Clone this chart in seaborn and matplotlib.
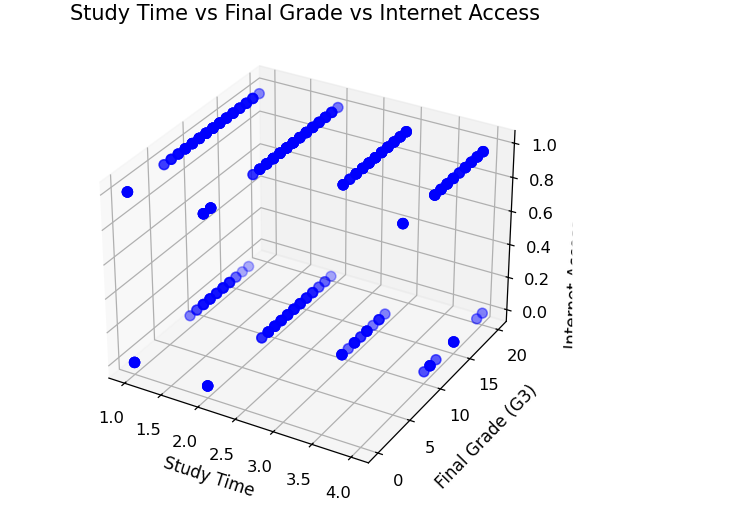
import matplotlib
matplotlib.use("Agg")
import matplotlib.pyplot as plt
from matplotlib.patches import Rectangle
import seaborn as sns
import numpy as np

# grade values seen in each (study time, internet) group, and how many students overlap there
g3_s1_i1 = [0, 5, 6, 7, 8, 9, 10, 11, 12, 13, 14, 15, 16, 17, 18, 19]
n_s1_i1 = [4, 1, 2, 3, 5, 6, 8, 8, 8, 8, 6, 6, 5, 5, 4, 1]
g3_s2_i1 = [0, 1, 7, 8, 9, 10, 11, 12, 13, 14, 15, 16, 17, 18, 19, 20]
n_s2_i1 = [4, 4, 1, 4, 6, 8, 8, 9, 9, 8, 8, 6, 5, 5, 4, 1]
g3_s3_i1 = [9, 10, 11, 12, 13, 14, 15, 16, 17, 18, 19]
n_s3_i1 = [4, 2, 5, 6, 6, 6, 6, 6, 5, 5, 5]
g3_s4_i1 = [6, 11, 12, 13, 14, 15, 16, 17, 18, 19]
n_s4_i1 = [3, 4, 4, 4, 4, 2, 4, 4, 4, 4]
g3_s1_i0 = [0, 8, 9, 10, 11, 12, 13, 14, 15, 16, 17]
n_s1_i0 = [5, 1, 2, 5, 6, 5, 6, 5, 2, 1, 1]
g3_s2_i0 = [0, 8, 9, 10, 11, 12, 13, 14, 15, 16, 17, 18, 19]
n_s2_i0 = [5, 2, 6, 6, 6, 6, 6, 6, 5, 4, 2, 2, 1]
g3_s3_i0 = [9, 10, 11, 12, 13, 14, 15, 16]
n_s3_i0 = [5, 1, 5, 2, 5, 1, 3, 1]
g3_s4_i0 = [10, 11, 12, 15, 19, 20]
n_s4_i0 = [1, 4, 1, 5, 1, 1]
yticks = [0, 5, 10, 15, 20]

groups = [(1, 1, g3_s1_i1, n_s1_i1), (2, 1, g3_s2_i1, n_s2_i1),
          (3, 1, g3_s3_i1, n_s3_i1), (4, 1, g3_s4_i1, n_s4_i1),
          (1, 0, g3_s1_i0, n_s1_i0), (2, 0, g3_s2_i0, n_s2_i0),
          (3, 0, g3_s3_i0, n_s3_i0), (4, 0, g3_s4_i0, n_s4_i0)]
study, internet, grades = [], [], []
for s, i, g, n in groups:
    study += [s] * sum(n)
    internet += [i] * sum(n)
    grades += list(np.repeat(g, n))

sns.set_theme(style="white")
plt.rcdefaults()
DPI = 112
fig = plt.figure(figsize=(729 / DPI, 523 / DPI), dpi=DPI)
W, H = 729, 523
axw, axh = 568, 462
ax = fig.add_axes([(305 - axw / 2) / W, 31 / H, axw / W, axh / H], projection="3d")
ax.scatter(study, grades, internet, c="blue", marker="o", s=40)
ax.set_yticks(yticks)
ax.tick_params(labelsize=10.5)
ax.tick_params(axis="x", pad=5)
ax.set_xlabel("Study Time", fontsize=10.8, labelpad=5.5)
ax.set_ylabel("Final Grade (G3)", fontsize=10.8, labelpad=6.5)
ax.set_zlabel("")
ax.set_title("Study Time vs Final Grade vs Internet Access", fontsize=13.4, pad=6.5)
fig.text(575.5 / W, 1 - 284 / H, "Internet Access", rotation=87, fontsize=10.8,
         ha="center", va="center")
fig.add_artist(Rectangle((573 / W, 0), 156 / W, 1, transform=fig.transFigure,
                         color="white", zorder=10))
fig.savefig("out.png", dpi=DPI)
